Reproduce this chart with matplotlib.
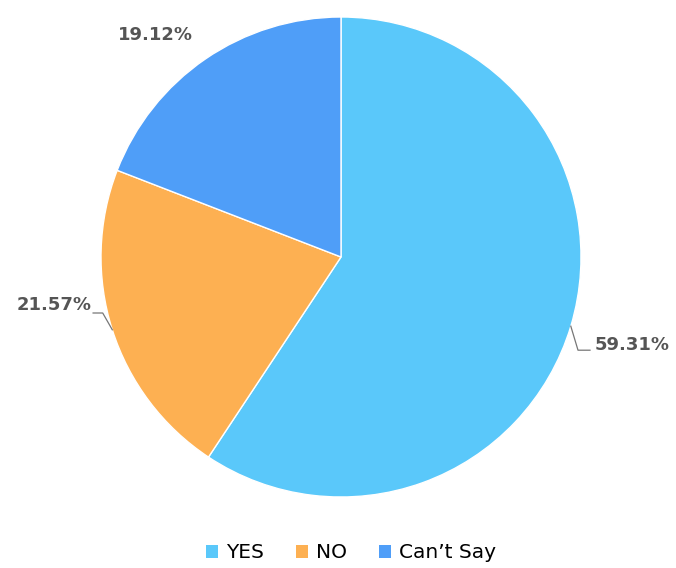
import numpy as np
import matplotlib.pyplot as plt
from matplotlib.patches import Patch

labels = ["YES", "NO", "Can’t Say"]
shares = [59.31, 21.57, 19.12]
colors = ["#5AC8FA", "#FDB052", "#4F9EF8"]

fig = plt.figure(figsize=(6.76, 5.68), dpi=100)
# pie centred at (341, 257) px with a 240 px radius
ax = fig.add_axes([101 / 676, 71 / 568, 480 / 676, 480 / 568])

wedges, _ = ax.pie(shares, colors=colors, startangle=90, counterclock=False,
                   radius=1, wedgeprops=dict(edgecolor="white", linewidth=1))
ax.set_xlim(-1, 1)
ax.set_ylim(-1, 1)
ax.set_aspect("equal")
ax.axis("off")

txt = dict(fontsize=13, fontweight="bold", color="#555555", clip_on=False)
line = dict(color="#777777", lw=0.9, clip_on=False)

for w, val in zip(wedges, shares):
    mid = np.deg2rad((w.theta1 + w.theta2) / 2)
    x, y = np.cos(mid), np.sin(mid)
    s = f"{val:.2f}%"
    if x > 0.5:
        ey = y - 0.10
        ax.plot([x, x + 0.03, x + 0.08], [y, ey, ey], **line)
        ax.text(x + 0.10, ey + 0.02, s, ha="left", va="center", **txt)
    elif x < -0.5 and y < 0:
        ey = y + 0.07
        ax.plot([x, x - 0.04, x - 0.08], [y, ey, ey], **line)
        ax.text(x - 0.085, ey + 0.035, s, ha="right", va="center", **txt)
    else:
        ax.text(x - 0.21, y + 0.10, s, ha="center", va="center", **txt)

handles = [Patch(facecolor=c, edgecolor="none") for c in colors]
fig.legend(handles, labels, loc="center", bbox_to_anchor=(351 / 676, 1 - 553 / 568),
           ncol=3, frameon=False, fontsize=14.5, handlelength=0.6, handleheight=0.6,
           handletextpad=0.4, columnspacing=1.6)

fig.savefig("out.png", dpi=100)
